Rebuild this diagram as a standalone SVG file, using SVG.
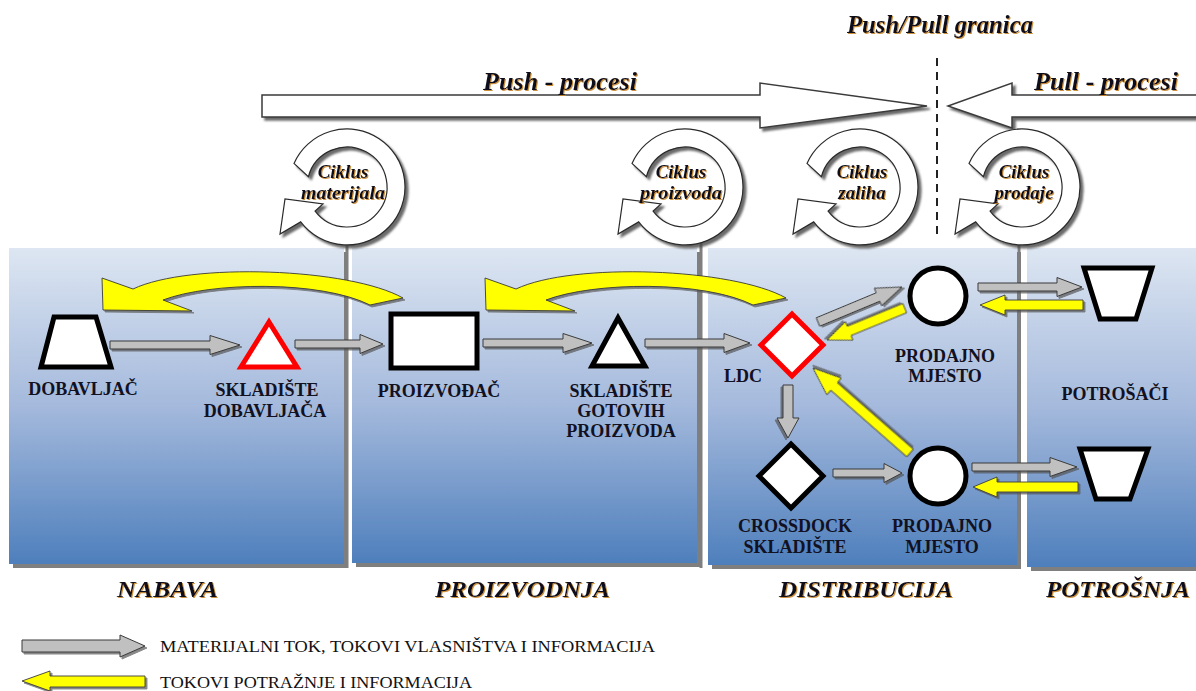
<svg xmlns="http://www.w3.org/2000/svg" width="1196" height="691" viewBox="0 0 1196 691">
<defs>
<linearGradient id="pg" x1="0" y1="0" x2="0" y2="1">
<stop offset="0" stop-color="#dde6f2"/>
<stop offset="0.5" stop-color="#a4b9dc"/>
<stop offset="1" stop-color="#4e7fbc"/>
</linearGradient>
<filter id="psh" x="-5%" y="-5%" width="115%" height="115%">
<feDropShadow dx="4" dy="4" stdDeviation="0.3" flood-color="#7f7f7f" flood-opacity="1"/>
</filter>
<filter id="ash" x="-20%" y="-40%" width="150%" height="190%">
<feDropShadow dx="2" dy="2" stdDeviation="0.6" flood-color="#555" flood-opacity="0.7"/>
</filter>
<filter id="csh" x="-20%" y="-20%" width="150%" height="150%">
<feDropShadow dx="3" dy="3" stdDeviation="1" flood-color="#444" flood-opacity="0.8"/>
</filter>
<filter id="tsh" x="-5%" y="-20%" width="110%" height="150%">
<feDropShadow dx="1" dy="1" stdDeviation="0.5" flood-color="#c8862a" flood-opacity="0.9"/>
</filter>
<path id="cyc" d="M-53,-23.6 A58,58 0 1 1 -46.3,34.9 L-67,47 L-62,12 L-24,17 L-31.9,24.1 A40,40 0 1 0 -38.6,-10.4 Z"/>
<style>
.panel{fill:url(#pg);filter:url(#psh)}
.vline{stroke:#7f7f7f;stroke-width:3}
.ga{fill:#c0c0c0;stroke:#3a3a3a;stroke-width:1;filter:url(#ash)}
.ya{fill:#ffff00;stroke:#3a3a3a;stroke-width:0.9;filter:url(#ash)}
.big{fill:#fff;stroke:#3a3a3a;stroke-width:1.5;filter:url(#csh)}
.cy{fill:#fff;stroke:#2a2a2a;stroke-width:1.2;filter:url(#csh)}
.shp{fill:#fff;stroke:#000;stroke-width:5}
.red{fill:#fff;stroke:#ff0000;stroke-width:5}
.nl{font-family:"Liberation Serif","Times New Roman",serif;font-weight:bold;font-size:18px;text-anchor:middle;fill:#111122}
.sec{font-family:"Liberation Serif","Times New Roman",serif;font-weight:bold;font-style:italic;font-size:24px;fill:#0d0d1a;filter:url(#tsh)}
.ttl{font-family:"Liberation Serif","Times New Roman",serif;font-weight:bold;font-style:italic;font-size:25px;fill:#0d0d1a;filter:url(#tsh)}
.ct{font-family:"Liberation Serif","Times New Roman",serif;font-weight:bold;font-style:italic;font-size:19px;text-anchor:middle;fill:#0d0d1a;filter:url(#tsh)}
.leg{font-family:"Liberation Serif","Times New Roman",serif;font-size:16px;fill:#111}
</style>
</defs>

<rect width="1196" height="691" fill="#ffffff"/>

<!-- panels -->
<g id="panels">
<rect class="panel" x="9" y="248" width="335" height="316"/>
<rect class="panel" x="352" y="248" width="345" height="315"/>
<rect class="panel" x="708" y="248" width="309" height="317"/>
<rect class="panel" x="1027" y="248" width="175" height="319"/>
</g>

<!-- top push/pull -->
<g id="push-arrow">
<path class="big" d="M262,95 L760,95 L760,83 L927,106 L760,128 L760,117 L262,117 Z"/>
<text class="ttl" x="483" y="90" textLength="154" lengthAdjust="spacingAndGlyphs">Push - procesi</text>
</g>
<g id="pull-arrow">
<path class="big" d="M1200,95 L1012,95 L1012,83 L948,106 L1012,128 L1012,117 L1200,117 Z"/>
<text class="ttl" x="1034" y="90" textLength="144" lengthAdjust="spacingAndGlyphs">Pull - procesi</text>
</g>
<g id="push-pull-boundary">
<text class="ttl" x="847" y="33" font-size="21" textLength="186" lengthAdjust="spacingAndGlyphs">Push/Pull granica</text>
<line x1="937" y1="58" x2="937" y2="234" stroke="#222" stroke-width="2" stroke-dasharray="8,6"/>
</g>

<!-- vertical lines from cycles -->
<g id="cycle-lines">
<line class="vline" x1="347" y1="244" x2="347" y2="568"/>
<line class="vline" x1="701" y1="242" x2="701" y2="568"/>
<line class="vline" x1="1019" y1="244" x2="1019" y2="568"/>
</g>

<!-- cycles -->
<g id="cycle-materijala" transform="translate(347,187)">
<use href="#cyc" class="cy"/>
<text class="ct" x="-4" y="-9">Ciklus</text>
<text class="ct" x="-4" y="12" textLength="84" lengthAdjust="spacingAndGlyphs">materijala</text>
</g>
<g id="cycle-proizvoda" transform="translate(685,187)">
<use href="#cyc" class="cy"/>
<text class="ct" x="-4" y="-9">Ciklus</text>
<text class="ct" x="-4" y="12" textLength="82" lengthAdjust="spacingAndGlyphs">proizvoda</text>
</g>
<g id="cycle-zaliha" transform="translate(860,187)">
<use href="#cyc" class="cy"/>
<text class="ct" x="2" y="-9">Ciklus</text>
<text class="ct" x="2" y="12">zaliha</text>
</g>
<g id="cycle-prodaje" transform="translate(1022,187)">
<use href="#cyc" class="cy"/>
<text class="ct" x="2" y="-9">Ciklus</text>
<text class="ct" x="2" y="12">prodaje</text>
</g>

<!-- connectors -->
<g id="connectors">
<path class="ya" d="M403,298 C350,268 190,262 133,289 L102,278 L103,310 L192,311 L163,300 C210,282 320,280 370,305 Z"/>
<path class="ya" d="M786,298 C733,268 573,262 516,289 L485,278 L486,310 L575,311 L546,300 C593,282 703,280 753,305 Z"/>
<path class="ga" d="M240,345 L210,335.5 L210,341 L110,341 L110,349 L210,349 L210,354.5 Z"/>
<path class="ga" d="M383,344 L360,334.5 L360,340 L295,340 L295,348 L360,348 L360,353.5 Z"/>
<path class="ga" d="M592,343 L563,333.5 L563,339 L483,339 L483,347 L563,347 L563,352.5 Z"/>
<path class="ga" d="M750,343 L724,333.5 L724,339 L645,339 L645,347 L724,347 L724,352.5 Z"/>
<path class="ga" transform="translate(902,287) rotate(-22.6)" d="M0,0 L-26,-9.5 L-26,-4.5 L-91,-4.5 L-91,4.5 L-26,4.5 L-26,9.5 Z"/>
<path class="ya" transform="translate(827,340) rotate(157.7)" d="M0,0 L-24,-10 L-24,-5 L-84,-5 L-84,5 L-24,5 L-24,10 Z"/>
<path class="ga" d="M1082,287 L1057,277.5 L1057,283 L978,283 L978,291 L1057,291 L1057,296.5 Z"/>
<path class="ya" d="M980,305 L1005,295 L1005,300 L1083,300 L1083,310 L1005,310 L1005,315 Z"/>
<path class="ga" transform="translate(788,438) rotate(90)" d="M0,0 L-20,-11 L-20,-5 L-53,-5 L-53,5 L-20,5 L-20,11 Z"/>
<path class="ya" transform="translate(813,368) rotate(-138.8)" d="M0,0 L-28,-11 L-28,-5 L-129,-5 L-129,5 L-28,5 L-28,11 Z"/>
<path class="ga" d="M902,473 L884,463.5 L884,469 L833,469 L833,477 L884,477 L884,482.5 Z"/>
<path class="ga" d="M1077,467 L1050,457.5 L1050,463 L972,463 L972,471 L1050,471 L1050,476.5 Z"/>
<path class="ya" d="M973,487 L997,477 L997,482 L1078,482 L1078,492 L997,492 L997,497 Z"/>
</g>

<!-- nodes -->
<g id="dobavljac">
<path class="shp" d="M54,317 L96,317 L111,367 L41,367 Z"/>
<text class="nl" x="83" y="395">DOBAVLJAČ</text>
</g>
<g id="skladiste-dobavljaca">
<path class="red" d="M269,322 L297,367 L241,367 Z"/>
<text class="nl" x="267" y="396">SKLADIŠTE</text>
<text class="nl" x="265" y="417">DOBAVLJAČA</text>
</g>
<g id="proizvodac">
<rect class="shp" x="391" y="314" width="86" height="54" stroke-width="6"/>
<text class="nl" x="439" y="397">PROIZVOĐAČ</text>
</g>
<g id="skladiste-gotovih-proizvoda">
<path class="shp" d="M618,318 L645,366 L592,366 Z"/>
<text class="nl" x="621" y="397">SKLADIŠTE</text>
<text class="nl" x="621" y="417">GOTOVIH</text>
<text class="nl" x="621" y="437">PROIZVODA</text>
</g>
<g id="ldc">
<path class="red" d="M792,314 L823,345 L792,376 L761,345 Z"/>
<text class="nl" x="743" y="382">LDC</text>
</g>
<g id="prodajno-mjesto-1">
<circle class="shp" cx="938" cy="296" r="28"/>
<text class="nl" x="945" y="362">PRODAJNO</text>
<text class="nl" x="945" y="382">MJESTO</text>
</g>
<g id="crossdock">
<path class="shp" d="M791,444 L823,476 L791,508 L759,476 Z"/>
<text class="nl" x="795" y="532">CROSSDOCK</text>
<text class="nl" x="795" y="553">SKLADIŠTE</text>
</g>
<g id="prodajno-mjesto-2">
<circle class="shp" cx="938" cy="476" r="28"/>
<text class="nl" x="942" y="532">PRODAJNO</text>
<text class="nl" x="942" y="553">MJESTO</text>
</g>
<g id="potrosaci">
<path class="shp" d="M1084,268 L1152,268 L1136,319 L1100,319 Z"/>
<path class="shp" d="M1080,449 L1148,449 L1130,499 L1096,499 Z"/>
<text class="nl" x="1115" y="400">POTROŠAČI</text>
</g>

<!-- section labels -->
<g id="sections">
<text class="sec" x="117" y="597" textLength="101" lengthAdjust="spacingAndGlyphs">NABAVA</text>
<text class="sec" x="435" y="597" textLength="175" lengthAdjust="spacingAndGlyphs">PROIZVODNJA</text>
<text class="sec" x="779" y="597" textLength="174" lengthAdjust="spacingAndGlyphs">DISTRIBUCIJA</text>
<text class="sec" x="1046" y="597" textLength="144" lengthAdjust="spacingAndGlyphs">POTROŠNJA</text>
</g>

<!-- legend -->
<g id="legend">
<path class="ga" d="M145,646 L120,635 L120,640 L22,640 L22,652 L120,652 L120,657 Z"/>
<text class="leg" x="160" y="652" textLength="495" lengthAdjust="spacingAndGlyphs">MATERIJALNI TOK, TOKOVI VLASNIŠTVA I INFORMACIJA</text>
<path class="ya" d="M22,681 L50,671 L50,676 L145,676 L145,687 L50,687 L50,691 Z"/>
<text class="leg" x="160" y="688" textLength="312" lengthAdjust="spacingAndGlyphs">TOKOVI POTRAŽNJE I INFORMACIJA</text>
</g>
</svg>
